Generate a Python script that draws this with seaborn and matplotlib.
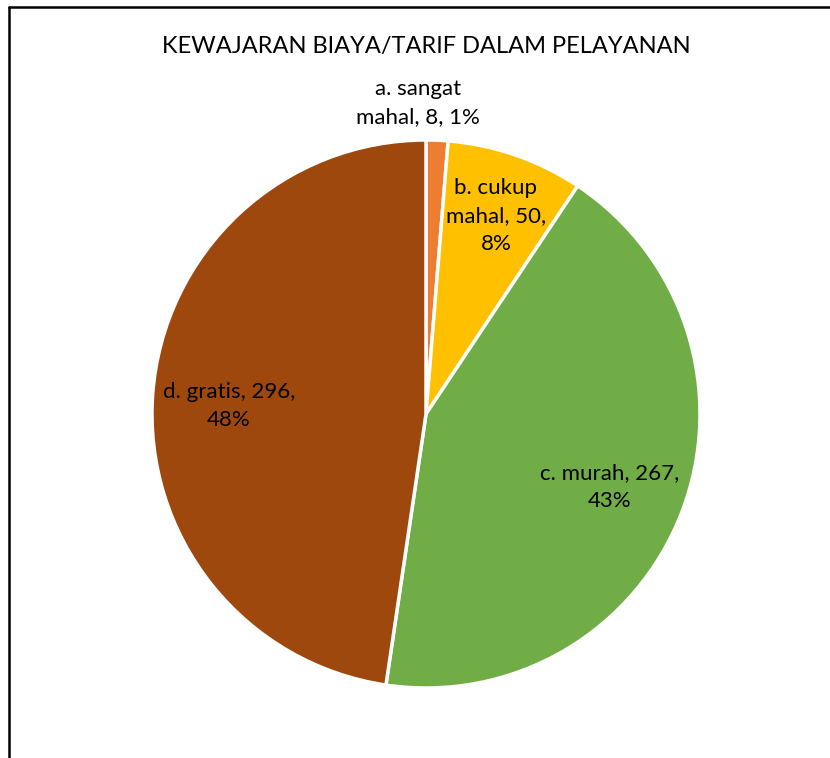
import matplotlib
matplotlib.use("Agg")
import matplotlib.pyplot as plt
import seaborn as sns
from matplotlib.lines import Line2D

# --- data ---
categories = ["a. sangat mahal", "b. cukup mahal", "c. murah", "d. gratis"]
counts = [8, 50, 267, 296]
label_texts = ["a. sangat\nmahal, 8, 1%", "b. cukup\nmahal, 50,\n8%",
               "c. murah, 267,\n43%", "d. gratis, 296,\n48%"]
colors = ["#ED7D31", "#FFC000", "#70AD47", "#9E480E"]

# label anchor points (pie radius = 1)
label_pos = [(-0.03, 1.135), (0.255, 0.722), (0.67, -0.267), (-0.72, 0.03)]

sns.set_style("white")
plt.rcParams["font.family"] = ["Lato", "DejaVu Sans"]

W, H = 830, 758
fig = plt.figure(figsize=(W / 100, H / 100), dpi=100)

# pie centred at (426, 414) px, radius 274 px
cx, cy, r = 426, 414, 274
ax = fig.add_axes([(cx - r) / W, (H - cy - r) / H, 2 * r / W, 2 * r / H])
ax.pie(counts, colors=colors, startangle=90, counterclock=False,
       wedgeprops=dict(edgecolor="white", linewidth=2.5))
ax.set_xlim(-1, 1)
ax.set_ylim(-1, 1)
ax.axis("off")

for txt, (x, y) in zip(label_texts, label_pos):
    ax.text(x, y, txt, ha="center", va="center", fontsize=16,
            color="#000000", linespacing=1.5, clip_on=False)

fig.text(cx / W, 1 - 47 / H, "KEWAJARAN BIAYA/TARIF DALAM PELAYANAN",
         ha="center", va="center", fontsize=17, color="#000000")

# frame edges (left and top)
fig.add_artist(Line2D([9 / W, 9 / W], [0, 1 - 7 / H], color="black", lw=1.8,
                      transform=fig.transFigure))
fig.add_artist(Line2D([9 / W, 1], [1 - 7 / H, 1 - 7 / H], color="black", lw=1.8,
                      transform=fig.transFigure))

fig.savefig("out.png", dpi=100)
